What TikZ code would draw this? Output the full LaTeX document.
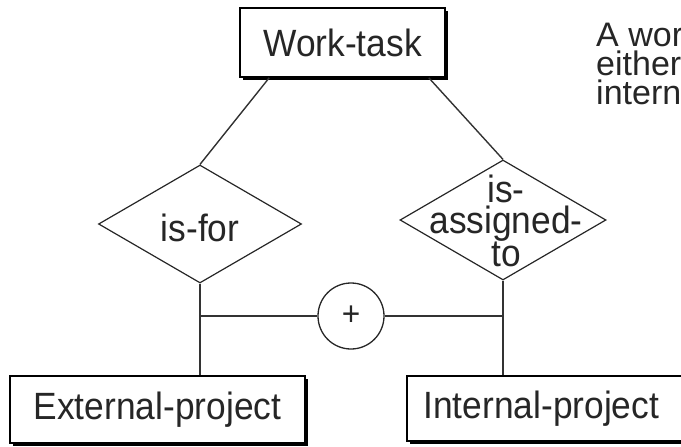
\documentclass[tikz,border=0pt]{standalone}
\usepackage{fontspec}
\setmainfont{Liberation Sans}[FakeStretch=0.93]
\newfontfamily\notefont{Liberation Sans}
\usetikzlibrary{shapes.geometric,shadows}
\begin{document}
\begin{tikzpicture}[x=1pt,y=-1pt,
  ent/.style={draw=black, line width=1.6pt, fill=white, inner sep=0pt,
    drop shadow={shadow xshift=3pt,shadow yshift=-3pt,opacity=1,fill=black}},
  rel/.style={draw=black!85, line width=1.2pt, shape=diamond, inner sep=0pt},
  conn/.style={draw=black!80, line width=1.4pt},
  lbl/.style={font=\fontsize{38}{31}\selectfont, text=black!85, inner sep=0pt},
  note/.style={font=\notefont\fontsize{34}{29}\selectfont, text=black!85, inner sep=0pt, anchor=base west}]
\useasboundingbox (0,0) rectangle (681,447);
\begin{scope}
\clip (0,0) rectangle (681,447);
% entities
\node[ent, minimum width=205pt, minimum height=69pt] (wt) at (342.5,42.5) {};
\node[lbl] (wtl) at (wt.center) {Work-task};
\node[ent, minimum width=295pt, minimum height=67pt] (ext) at (157.5,409.5) {};
\node[lbl] (extl) at (ext.center) {External-project};
\node[ent, minimum width=313pt, minimum height=65pt] (int) at (563.5,408.5) {};
\node[lbl, anchor=west] (intl) at ([xshift=17pt]int.west) {Internal-project};
% relationships
\node[rel, minimum width=203pt, minimum height=118pt] (d1) at (200,224) {};
\node[lbl] (d1l) at (200,228) {is-for};
\node[rel, minimum width=206pt, minimum height=120pt] (d2) at (503,220) {};
\node[lbl, align=center] (d2l) at (506,221) {is-\\assigned-\\to};
% exclusion circle
\node[circle, draw=black!85, line width=1.3pt, minimum size=66pt, inner sep=0pt, fill=white] (x) at (351,316) {};
\node[font=\fontsize{34}{34}\selectfont, text=black!85, inner sep=0pt] (xl) at (x.center) {+};
% connectors
\draw[conn] ([xshift=30pt]wt.south west) -- (d1.north);
\draw[conn] ([xshift=-17pt]wt.south east) -- (d2.north);
\draw[conn] (d1.south) -- (d1.south |- ext.north);
\draw[conn] (d2.south) -- (d2.south |- int.north);
\coordinate (j1) at (d1.south |- x.west);
\coordinate (j2) at (d2.south |- x.east);
\draw[conn] (j1) -- (x.west);
\draw[conn] (x.east) -- (j2);
% note
\node[note] (nt1) at (596,46) {A wor};
\node[note] (nt2) at (596,75) {either};
\node[note] (nt3) at (596,104) {intern};
\end{scope}
\end{tikzpicture}
\end{document}
